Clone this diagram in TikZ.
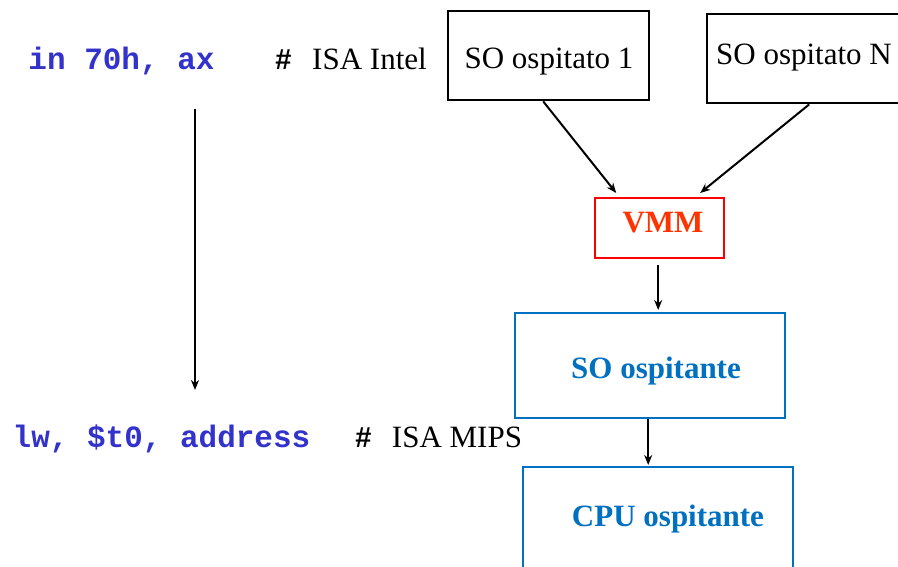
\documentclass[tikz,border=0pt]{standalone}
\usepackage{fontspec}
\setmainfont{Liberation Serif}
\setmonofont{Liberation Mono}
\newfontfamily\hashfont{Liberation Sans}
\usetikzlibrary{arrows.meta,calc}
\definecolor{codeblue}{HTML}{3333CC}
\definecolor{boxblue}{HTML}{0070C0}
\definecolor{vmmred}{HTML}{FF3300}
\tikzset{
  box/.style={draw, line width=2.4pt, inner sep=0pt, anchor=north west},
  txt/.style={inner sep=0pt, anchor=base, font=\fontsize{31}{36}\selectfont},
  btxt/.style={txt, font=\fontsize{31}{36}\selectfont\bfseries},
  hash/.style={txt, font=\fontsize{29}{36}\selectfont\hashfont\bfseries},
  code/.style={txt, font=\fontsize{31}{36}\selectfont\ttfamily\bfseries, text=codeblue},
  arr/.style={line width=2pt, -{Stealth[length=10pt,width=8pt]}}
}
\begin{document}
\begin{tikzpicture}[x=1pt,y=-1pt]
\useasboundingbox (0,0) rectangle (898,567);
\fill[white] (0,0) rectangle (898,567);
\begin{scope}
\clip (0,0) rectangle (898,567);
% boxes
\node[box, minimum width=201pt, minimum height=89pt] (so1) at (447,10) {};
\node[box, minimum width=220pt, minimum height=89pt] (soN) at (706,13) {};
\node[box, draw=red, minimum width=129pt, minimum height=60pt] (vmm) at (594,197) {};
\node[box, draw=boxblue, minimum width=270pt, minimum height=105pt] (host) at (514,312) {};
\node[box, draw=boxblue, minimum width=270pt, minimum height=130pt] (cpu) at (522,466) {};
% box texts
\node[txt] (so1t) at (549,69) {SO ospitato 1};
\node[txt, anchor=base west] (soNt) at (716,65) {SO ospitato N};
\node[btxt, text=vmmred] (vmmt) at (663,233) {VMM};
\node[btxt, text=boxblue] (hostt) at (656,378) {SO ospitante};
\node[btxt, text=boxblue] (cput) at (668,526) {CPU ospitante};
\end{scope}
% code lines
\node[code] (l1) at (121.5,70) {in 70h, ax};
\node[hash] (h1) at (283.5,70) {\#};
\node[txt] (c1) at (369.5,70) {ISA Intel};
\node[code] (l2) at (161.5,447) {lw, \$t0, address};
\node[hash] (h2) at (363.5,447) {\#};
\node[txt] (c2) at (457,447) {ISA MIPS};
% long arrow
\coordinate (ta) at (195,109);
\coordinate (tb) at (195,390);
\draw[arr] (ta) -- (tb);
% connectors
\draw[arr] ([xshift=-5.5pt]so1.south) -- ([xshift=-43.5pt,yshift=4pt]vmm.north);
\draw[arr] ([xshift=-8pt]soN.south) -- ([xshift=40.5pt,yshift=4pt]vmm.north);
\draw[arr] ([xshift=-1.5pt,yshift=-6pt]vmm.south) -- ([xshift=8pt,yshift=2pt]host.north);
\draw[arr] ([xshift=-2pt]host.south) -- ([xshift=-10pt,yshift=1pt]cpu.north);
\end{tikzpicture}
\end{document}
